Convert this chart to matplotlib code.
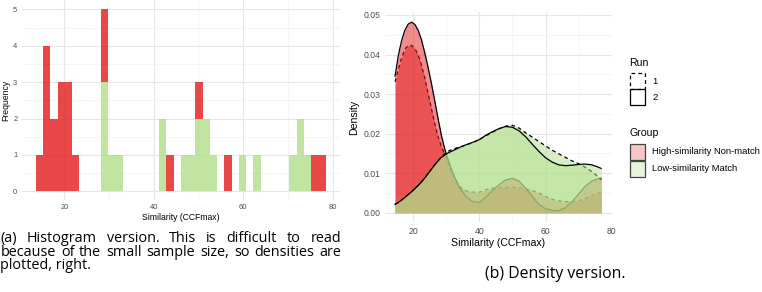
import numpy as np
import matplotlib.pyplot as plt
import matplotlib.patches as mpatches

plt.rcParams['font.family'] = ['Liberation Sans', 'DejaVu Sans']

# --- Data: histogram (40 bins, counts per bin) ---
hist_lo = 13.67
bin_w = 1.62
red_counts = [1, 4, 2, 3, 3, 1, 0, 0, 0, 2, 0, 0, 0, 0, 0, 0, 0, 0, 1, 0,
              0, 0, 1, 0, 0, 0, 1, 0, 0, 0, 0, 0, 0, 0, 0, 0, 0, 0, 1, 1]
green_counts = [0, 0, 0, 0, 0, 0, 0, 0, 0, 3, 1, 1, 0, 0, 0, 0, 0, 2, 0, 0,
                1, 1, 2, 2, 1, 0, 0, 0, 1, 0, 1, 0, 0, 0, 0, 1, 2, 1, 0, 0]

# --- Data: densities ---
dens_x = [14.5, 15.5, 16.5, 17.5, 18.5, 19.5, 20.5, 21.5, 22.5, 23.5, 24.5, 25.5,
          26.5, 27.5, 28.5, 29.5, 30.5, 31.5, 32.5, 34, 36, 38, 40, 42, 44, 46,
          48, 50, 52, 54, 56, 58, 60, 62, 64, 66, 68, 70, 72, 74, 76, 76.8]
red_run1 = [0.0331, 0.0363, 0.0392, 0.0414, 0.0423, 0.0423, 0.0415, 0.0399, 0.0373,
            0.0340, 0.0302, 0.0263, 0.0225, 0.0192, 0.0168, 0.0147, 0.0126, 0.0106,
            0.0087, 0.0066, 0.0055, 0.0052, 0.0052, 0.0058, 0.0062, 0.0063, 0.0064,
            0.0064, 0.0063, 0.0060, 0.0056, 0.0050, 0.0041, 0.0034, 0.0030, 0.0028,
            0.0028, 0.0030, 0.0036, 0.0043, 0.0050, 0.0053]
red_run2 = [0.0345, 0.0398, 0.0436, 0.0462, 0.0477, 0.0482, 0.0476, 0.0461, 0.0437,
            0.0404, 0.0367, 0.0327, 0.0283, 0.0238, 0.0196, 0.0162, 0.0135, 0.0111,
            0.0090, 0.0064, 0.0040, 0.0028, 0.0026, 0.0040, 0.0057, 0.0071, 0.0083,
            0.0087, 0.0080, 0.0062, 0.0041, 0.0021, 0.0010, 0.0006, 0.0005, 0.0013,
            0.0028, 0.0047, 0.0067, 0.0080, 0.0086, 0.0087]
green_run1 = [0.0021, 0.0026, 0.0032, 0.0039, 0.0046, 0.0053, 0.0061, 0.0069, 0.0078,
              0.0088, 0.0099, 0.0110, 0.0121, 0.0131, 0.0141, 0.0149, 0.0155, 0.0159,
              0.0162, 0.0166, 0.0171, 0.0177, 0.0185, 0.0194, 0.0203, 0.0212, 0.0219,
              0.0221, 0.0214, 0.0202, 0.0191, 0.0180, 0.0169, 0.0158, 0.0149, 0.0140,
              0.0131, 0.0124, 0.0115, 0.0104, 0.0090, 0.0083]
green_run2 = [0.0021, 0.0026, 0.0032, 0.0039, 0.0046, 0.0053, 0.0061, 0.0069, 0.0078,
              0.0088, 0.0099, 0.0110, 0.0121, 0.0131, 0.0140, 0.0146, 0.0151, 0.0155,
              0.0159, 0.0165, 0.0172, 0.0178, 0.0185, 0.0196, 0.0205, 0.0213, 0.0218,
              0.0216, 0.0207, 0.0192, 0.0173, 0.0155, 0.0139, 0.0128, 0.0121, 0.0119,
              0.0120, 0.0122, 0.0123, 0.0121, 0.0115, 0.0112]

x_ticks = [20, 40, 60, 80]
hist_y_ticks = [0, 1, 2, 3, 4, 5]
dens_y_ticks = [0.00, 0.01, 0.02, 0.03, 0.04, 0.05]
group_labels = ["High-similarity Non-match", "Low-similarity Match"]
run_labels = ["1", "2"]

caption_a = ["(a) Histogram version.  This is difficult to read",
             "because of the small sample size, so densities are",
             "plotted, right."]
caption_b = "(b) Density version."

RED = "#E41A1C"
GREEN = "#B2DF8A"
TICK_COL = "#4D4D4D"

W, H = 762, 292
fig = plt.figure(figsize=(W / 100, H / 100), dpi=100)


def box(x0, y0, x1, y1):
    # pixel box (top-left origin) -> figure fraction rect
    return [x0 / W, 1 - y1 / H, (x1 - x0) / W, (y1 - y0) / H]


def style_panel(ax, size, minor_x, minor_y):
    for s in ax.spines.values():
        s.set_visible(False)
    ax.set_xticks(minor_x, minor=True)
    ax.set_yticks(minor_y, minor=True)
    ax.grid(True, which="major", color="#E6E6E6", lw=0.8)
    ax.grid(True, which="minor", color="#F2F2F2", lw=0.5)
    ax.set_axisbelow(True)
    ax.tick_params(which="both", length=0, labelsize=size, labelcolor=TICK_COL)


# --- (a) histogram ---
ax1 = fig.add_axes(box(21.5, 0.2, 340.2, 200.4))
n_bins = len(red_counts)
edges = hist_lo + bin_w * np.arange(n_bins)
ax1.bar(edges, green_counts, width=bin_w, align="edge", color=GREEN, alpha=0.8, lw=0)
ax1.bar(edges, red_counts, width=bin_w, bottom=green_counts, align="edge",
        color=RED, alpha=0.8, lw=0)
span = n_bins * bin_w
ax1.set_xlim(hist_lo - 0.05 * span, hist_lo + 1.05 * span)
ax1.set_ylim(-0.25, 5.25)
ax1.set_xticks(x_ticks)
ax1.set_yticks(hist_y_ticks)
style_panel(ax1, 5.4, [30, 50, 70], np.arange(0.5, 5.5, 1.0))
ax1.tick_params(axis="x", pad=2.6)
ax1.tick_params(axis="y", pad=3.0)
fig.text(6 / W, 1 - 100 / H, "Frequency", rotation=90, ha="center", va="center", size=6.2)
fig.text(180.8 / W, 1 - 217 / H, "Similarity (CCFmax)", ha="center", va="center", size=6.2)

# --- (b) densities ---
ax2 = fig.add_axes(box(385, 12.2, 611.7, 222.2))
curves = [(red_run1, RED, "--"), (red_run2, RED, "-"),
          (green_run1, GREEN, "--"), (green_run2, GREEN, "-")]
z = 2
for ys, col, ls in curves:
    ax2.fill_between(dens_x, 0, ys, color=col, alpha=0.5, lw=0, zorder=z)
    ax2.plot(dens_x, ys, color="black", ls=ls, lw=0.9, zorder=z + 0.5,
             dashes=(3, 2.5) if ls == "--" else (None, None))
    z += 1
ax2.set_xlim(11.46, 79.87)
ax2.set_ylim(-0.0024, 0.0507)
ax2.set_xticks(x_ticks)
ax2.set_yticks(dens_y_ticks)
ax2.set_yticklabels([f"{v:.2f}" for v in dens_y_ticks])
style_panel(ax2, 6.2, [30, 50, 70], [0.005, 0.015, 0.025, 0.035, 0.045])
ax2.tick_params(axis="x", pad=3.2)
ax2.tick_params(axis="y", pad=3.4)
fig.text(354 / W, 1 - 117 / H, "Density", rotation=90, ha="center", va="center", size=7.6)
fig.text(498 / W, 1 - 243 / H, "Similarity (CCFmax)", ha="center", va="center", size=7.6)

# --- legends (drawn by hand, ggplot style) ---
def key_rect(x0, y0, x1, y1, **kw):
    r = mpatches.Rectangle((x0 / W, 1 - y1 / H), (x1 - x0) / W, (y1 - y0) / H,
                           transform=fig.transFigure, **kw)
    fig.add_artist(r)


fig.text(629 / W, 1 - 63 / H, "Run", ha="left", va="center", size=7.6)
key_rect(629.5, 73.5, 645, 89, facecolor="white", edgecolor="black", ls=(0, (3, 2.5)), lw=0.9)
key_rect(629.5, 89, 645, 105.5, facecolor="none", edgecolor="black", lw=0.9)
for lab, yc in zip(run_labels, [81.5, 98]):
    fig.text(652 / W, 1 - yc / H, lab, ha="left", va="center", size=6.8)

fig.text(629 / W, 1 - 133 / H, "Group", ha="left", va="center", size=7.6)
key_rect(629.5, 144, 645, 160, facecolor="#F8C6C7", edgecolor="#444444", lw=0.9)
key_rect(629.5, 160.5, 645, 176.5, facecolor="#E5F5D8", edgecolor="#444444", lw=0.9)
for lab, yc in zip(group_labels, [152, 168.7]):
    fig.text(651.7 / W, 1 - yc / H, lab, ha="left", va="center", size=6.75)

# --- captions ---
renderer = fig.canvas.get_renderer()
CAP_FAMILY = ["Open Sans", "DejaVu Sans"]


def fit_size(text, target_px):
    probe = fig.text(0, 0, text, family=CAP_FAMILY, size=10)
    s = 10 * target_px / probe.get_window_extent(renderer).width
    probe.remove()
    return s


CAP_FONT = dict(family=CAP_FAMILY, size=fit_size(caption_a[1], 333), color="black")


def justified(words, x0, x1, y_base):
    texts = [fig.text(0, 1 - y_base / H, w, ha="left", va="baseline", **CAP_FONT) for w in words]
    widths = [t.get_window_extent(renderer).width for t in texts]
    gap = (x1 - x0 - sum(widths)) / (len(words) - 1)
    x = x0
    for t, w in zip(texts, widths):
        t.set_x(x / W)
        x += w + gap


justified(caption_a[0].split(), 0.5, 341, 242)
justified(caption_a[1].split(), 0.5, 341, 255.5)
fig.text(0.5 / W, 1 - 269 / H, caption_a[2], ha="left", va="baseline", **CAP_FONT)
fig.text(555.5 / W, 1 - 277.5 / H, caption_b, ha="center", va="baseline",
         family=CAP_FAMILY, size=fit_size(caption_b, 140), color="black")

fig.savefig("out.png", dpi=100, facecolor="white")
